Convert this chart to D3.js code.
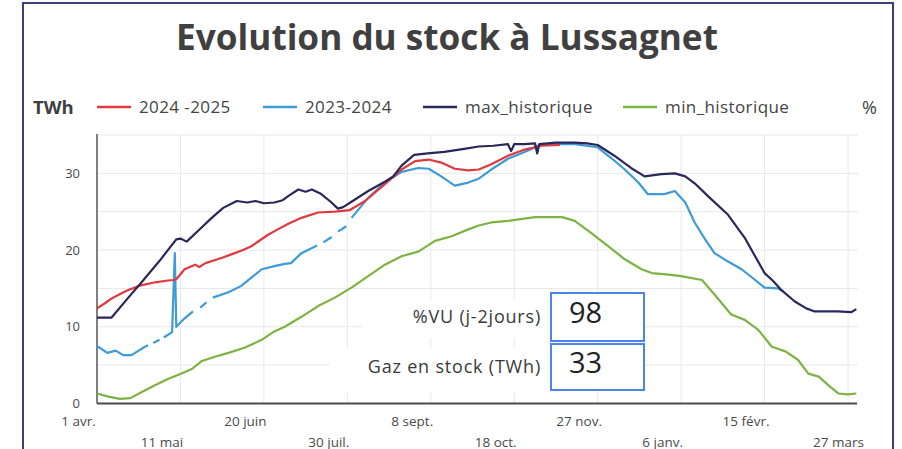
<!DOCTYPE html>
<html>
<head>
<meta charset="utf-8">
<script src="https://cdn.jsdelivr.net/npm/d3@7"></script>
<style>
  body { margin: 0; background: #fff; }
  svg { display: block; font-family: 'Open Sans', sans-serif; }
</style>
</head>
<body>
<svg width="902" height="449"></svg>
<script>
// data : [jour depuis le 1er avril, TWh]
const tickDays = [0, 40, 80, 120, 160, 200, 240, 280, 320, 360]
const tickLabels = ['1 avr.', '11 mai', '20 juin', '30 juil.', '8 sept.', '18 oct.', '27 nov. ', '6 janv.', '15 févr. ', '27 mars']
const yTicks = [0, 10, 20, 30]

const seriesNames = ['2024 -2025', '2023-2024', 'max_historique', 'min_historique']
const seriesColors = ['#e0393e', '#3d9bd8', '#28295a', '#7cb342']

const s2425 = [[0,12.4],[4,13.1],[7,13.7],[12,14.4],[15,14.8],[21,15.4],[28,15.8],[33,16.0],[36.5,16.1],[38,16.2],[42,17.5],[47,18.1],[49,17.8],[52,18.3],[60,19.0],[66,19.6],[70,20.0],[74,20.5],[82,22.0],[86,22.6],[91.5,23.4],[98,24.2],[106,24.9],[114,25.0],[121,25.2],[128.5,26.4],[138,28.6],[146,30.5],[152.5,31.6],[159,31.8],[165,31.4],[171.5,30.6],[178,30.4],[183,30.5],[189,31.2],[197,32.3],[205,33.1],[213,33.6],[222,33.7]]

// null = jours sans donnée
const s2324 = [[0,7.5],[5,6.6],[9,6.9],[12.5,6.3],[16.5,6.3],[20,6.9],[23,7.4],[24.5,7.6],[25.5,null],[27,7.9],[30,8.3],[31,null],[32,8.6],[36,9.3],[37.3,19.6],[38,10.0],[42,11.1],[46,12.0],[47.5,null],[49.5,12.5],[52.5,13.2],[54,null],[55.5,13.8],[63,14.5],[69,15.3],[74,16.4],[79,17.5],[85,17.9],[90,18.2],[93,18.3],[98,19.6],[105.5,20.6],[107,null],[108.5,21.0],[112.5,21.7],[114,null],[115.5,22.4],[119.5,23.1],[121,null],[122,24.2],[130,26.8],[138,28.8],[146,30.2],[154,30.7],[159,30.6],[165,29.6],[171.5,28.4],[178,28.8],[183,29.3],[189,30.5],[197,31.9],[207,33.0],[213,33.8],[221,33.8],[229,33.8],[240,33.4],[246.5,32.0],[253,30.5],[259.5,28.8],[264,27.3],[269,27.3],[272,27.3],[277,27.7],[282,26.2],[286.5,23.6],[291.5,21.4],[296,19.6],[302.5,18.5],[309,17.5],[315.5,16.1],[320,15.1],[326.5,15.0],[329,14.6]]

const sMax = [[0,11.2],[7,11.2],[15,13.8],[22,16.0],[30,18.6],[38,21.4],[40,21.5],[43,21.1],[50,22.9],[55,24.2],[60.5,25.5],[67,26.4],[72,26.2],[76,26.4],[80,26.1],[85,26.2],[89,26.5],[92,27.1],[96.5,27.9],[100,27.6],[103,27.9],[107.5,27.3],[112,26.3],[115.5,25.4],[118,25.6],[122,26.3],[130,27.7],[138,28.9],[142,29.6],[146,31.0],[152,32.4],[158.5,32.6],[166.5,32.8],[176,33.2],[183,33.5],[190,33.6],[197,33.8],[198.5,32.9],[200,33.8],[205,33.8],[210,33.9],[211,32.6],[212,33.8],[220,34.0],[229,34.0],[235,33.9],[240,33.7],[248,32.3],[256,30.7],[262.5,29.6],[270.5,29.9],[277,30.0],[282,29.6],[286.5,28.7],[293,27.0],[302.5,24.6],[310.5,21.6],[320,17.0],[324,16.0],[328,14.8],[334.5,13.3],[340,12.4],[344,12.0],[350,12.0],[355,12.0],[361.5,11.9],[364,12.3]]

const sMin = [[0,1.3],[5.5,0.9],[11,0.6],[16,0.7],[21.5,1.5],[28,2.4],[34,3.2],[40.5,3.9],[45.5,4.5],[50,5.5],[56.5,6.1],[63,6.6],[71,7.3],[79,8.3],[85,9.4],[90,10.0],[98,11.3],[106,12.7],[114,13.8],[122,15.1],[130,16.6],[138,18.1],[146,19.2],[154,19.8],[162,21.2],[170,21.8],[178,22.7],[183,23.2],[189,23.6],[197,23.8],[210,24.3],[223,24.3],[229,23.8],[237,22.2],[245,20.5],[253,18.8],[261,17.5],[266,17.0],[274,16.8],[280,16.6],[290,16.1],[296,14.2],[304,11.6],[310.5,10.9],[317,9.6],[323.5,7.4],[330,6.8],[336,5.7],[341,3.9],[346,3.5],[350.5,2.4],[355.5,1.3],[360,1.2],[364,1.3]]

const statLabels = ['%VU (j-2jours)', 'Gaz en stock (TWh)']
const statValues = [98, 33]

// selections
const $svg = d3.select('svg')

// dimensions
const plotLeft = 97
const plotRight = 857
const plotTop = 135
const plotBottom = 403.5

const scaleX = d3.scaleLinear().domain([0, 360]).range([plotLeft, 848])
const scaleY = d3.scaleLinear().domain([0, 35]).range([plotBottom, plotTop])

// cadre
$svg.append('rect')
  .attr('x', 23).attr('y', 3)
  .attr('width', 870).attr('height', 460)
  .attr('fill', '#fff')
  .attr('stroke', '#3d3e7e')
  .attr('stroke-width', 2)

// titre, ajusté à la largeur de l'original
const title = $svg.append('text')
  .attr('x', 447).attr('y', 50)
  .attr('text-anchor', 'middle')
  .style('font-weight', 700)
  .style('font-size', '32px')
  .attr('fill', '#404040')
  .text('Evolution du stock à Lussagnet')
const tw = title.node().getComputedTextLength()
title.style('font-size', (32 * 542 / tw) + 'px')

// grille
const $grid = $svg.append('g')
$grid.selectAll('.h')
  .data(d3.range(0, 36, 5))
  .enter().append('line')
  .attr('x1', plotLeft).attr('x2', plotRight + 1)
  .attr('y1', d => scaleY(d)).attr('y2', d => scaleY(d))
  .attr('stroke', '#e8e8e8').attr('stroke-width', 1)
$grid.selectAll('.v')
  .data(tickDays.slice(1))
  .enter().append('line')
  .attr('x1', d => scaleX(d)).attr('x2', d => scaleX(d))
  .attr('y1', plotTop).attr('y2', plotBottom)
  .attr('stroke', '#e8e8e8').attr('stroke-width', 1)

// fonds blancs des étiquettes
$svg.append('rect').attr('x', 362).attr('y', 300).attr('width', 188).attr('height', 38).attr('fill', '#fff')
$svg.append('rect').attr('x', 330).attr('y', 348).attr('width', 220).attr('height', 45).attr('fill', '#fff')

// axes
const $yAxis = $svg.append('g')
  .attr('transform', `translate(${plotLeft}, 0)`)
  .call(d3.axisLeft(scaleY).tickValues(yTicks).tickSize(0).tickPadding(17))
$yAxis.select('.domain').attr('stroke', '#555').attr('stroke-width', 1.5)
  .attr('d', `M0,${plotTop - 1}V${plotBottom}`)
$yAxis.selectAll('text').style('font-size', '13px').attr('fill', '#4a4a4a')
  .style('font-family', "'Open Sans', sans-serif")

const $xAxis = $svg.append('g')
  .attr('transform', `translate(0, ${plotBottom})`)
  .call(d3.axisBottom(scaleX).tickValues(tickDays).tickSize(0)
    .tickFormat((d, i) => tickLabels[i]))
$xAxis.select('.domain').attr('stroke', '#4a4a4a').attr('stroke-width', 2.2)
  .attr('d', `M${plotLeft},0H${plotRight}`)
$xAxis.selectAll('text')
  .style('font-size', '13.5px').attr('fill', '#4a4a4a')
  .style('font-family', "'Open Sans', sans-serif")
  .attr('dy', null)
  .attr('y', (d, i) => i % 2 ? 43 : 22)
  .attr('x', (d, i) => i === tickDays.length - 1 ? -10 : -19)
  .attr('text-anchor', 'middle')

// courbes
const line = d3.line()
  .defined(d => d[1] != null)
  .x(d => scaleX(d[0]))
  .y(d => scaleY(d[1]))
  .curve(d3.curveLinear)

const drawOrder = [[sMin, 3], [s2324, 1], [s2425, 0], [sMax, 2]]
$svg.append('g')
  .selectAll('path')
  .data(drawOrder)
  .enter().append('path')
  .attr('d', d => line(d[0]))
  .attr('fill', 'none')
  .attr('stroke', d => seriesColors[d[1]])
  .attr('stroke-width', 2.2)
  .attr('stroke-linejoin', 'round')

// légende
$svg.append('text')
  .attr('x', 33).attr('y', 114)
  .style('font-weight', 700).style('font-size', '18.5px')
  .attr('fill', '#3f3f3f')
  .text('TWh')
$svg.append('text')
  .attr('x', 877).attr('y', 114)
  .attr('text-anchor', 'end')
  .style('font-size', '18px')
  .attr('fill', '#3f3f3f')
  .text('%')

const legendX = [97, 263, 423, 623]
const legend = $svg.append('g')
  .selectAll('g')
  .data(seriesNames)
  .enter().append('g')
  .attr('transform', (d, i) => `translate(${legendX[i]}, 107)`)
legend.append('line')
  .attr('x1', 0).attr('x2', 34)
  .attr('stroke', (d, i) => seriesColors[i])
  .attr('stroke-width', 2.5)
legend.append('text')
  .attr('x', 42).attr('y', 6)
  .style('font-size', '17px')
  .style('letter-spacing', '0.4px')
  .attr('fill', '#444')
  .text(d => d)

// encadrés
const boxY = [293, 344]
const boxH = [48, 46]
const stats = $svg.append('g')
  .selectAll('g')
  .data(statLabels)
  .enter().append('g')
stats.append('text')
  .attr('x', 541).attr('y', (d, i) => boxY[i] + boxH[i] / 2 + 6)
  .attr('text-anchor', 'end')
  .style('font-size', '18px')
  .style('letter-spacing', '0.8px')
  .attr('fill', '#3a3a3a')
  .text(d => d)
stats.append('rect')
  .attr('x', 551).attr('y', (d, i) => boxY[i])
  .attr('width', 93).attr('height', (d, i) => boxH[i])
  .attr('fill', '#fff')
  .attr('stroke', '#4a86e8')
  .attr('stroke-width', 2)
stats.append('text')
  .attr('x', 569).attr('y', (d, i) => boxY[i] + boxH[i] / 2 + 6)
  .style('font-size', '29px')
  .attr('fill', '#222')
  .text((d, i) => statValues[i])
</script>
</body>
</html>
